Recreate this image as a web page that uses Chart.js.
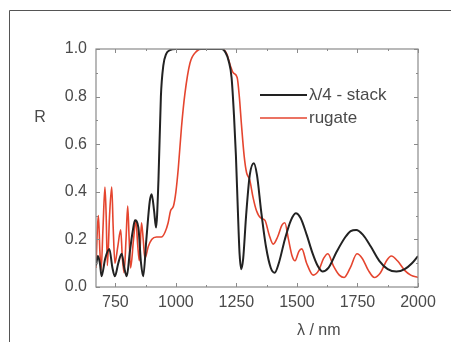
<!DOCTYPE html>
<html>
<head>
<meta charset="utf-8">
<script src="https://cdn.jsdelivr.net/npm/chart.js@4/dist/chart.umd.min.js"></script>
<style>
  html, body { margin: 0; padding: 0; background: #fff; }
  #wrap { width: 451px; height: 342px; position: relative; }
</style>
</head>
<body>
<div id="wrap"><canvas id="chart" width="451" height="342"></canvas></div>
<script>
// wavelength (nm) and reflectance for the quarter-wave stack
const stackWavelength = [670, 678, 686, 693, 708, 725, 738, 748, 762, 776, 787, 797, 810, 821, 831, 845, 856, 865,
  878, 892, 900, 910, 918, 928, 938, 948, 960, 975, 1000, 1100, 1190, 1205, 1218, 1230, 1240, 1248, 1256, 1263,
  1270, 1278, 1290, 1305, 1322, 1335, 1352, 1372, 1392, 1408, 1425, 1450, 1475, 1495, 1515, 1540, 1565, 1585,
  1605, 1630, 1665, 1700, 1722, 1745, 1772, 1805, 1840, 1875, 1911, 1945, 1975, 2000];
const stackR = [0.09, 0.13, 0.10, 0.045, 0.12, 0.16, 0.08, 0.045, 0.10, 0.14, 0.08, 0.045, 0.15, 0.23, 0.28, 0.25, 0.10, 0.045,
  0.20, 0.36, 0.39, 0.32, 0.25, 0.45, 0.80, 0.93, 0.98, 0.995, 1.0, 1.0, 1.0, 0.985, 0.95, 0.88, 0.72, 0.55, 0.32, 0.14,
  0.075, 0.12, 0.30, 0.47, 0.52, 0.47, 0.32, 0.17, 0.08, 0.06, 0.10, 0.20, 0.28, 0.31, 0.29, 0.22, 0.14, 0.09,
  0.065, 0.08, 0.15, 0.21, 0.235, 0.24, 0.22, 0.17, 0.11, 0.075, 0.065, 0.075, 0.10, 0.13];

// wavelength (nm) and reflectance for the rugate filter
const rugateWavelength = [670, 676, 680, 686, 691, 699, 707, 712, 717, 726, 735, 741, 748, 760, 772, 779, 786, 794,
  801, 807, 813, 825, 835, 842, 849, 858, 865, 872, 886, 900, 920, 940, 955, 968, 978, 990, 1000, 1010, 1023, 1037,
  1058, 1085, 1110, 1190, 1210, 1225, 1237, 1253, 1262, 1271, 1282, 1292, 1305, 1318, 1333, 1350, 1368, 1385, 1402,
  1420, 1438, 1450, 1465, 1480, 1492, 1508, 1520, 1540, 1567, 1590, 1610, 1628, 1650, 1675, 1695, 1720, 1748, 1770,
  1795, 1820, 1845, 1870, 1890, 1915, 1945, 1970, 2000];
const rugateR = [0.08, 0.25, 0.30, 0.15, 0.07, 0.25, 0.42, 0.30, 0.09, 0.30, 0.42, 0.25, 0.10, 0.17, 0.24, 0.12, 0.06, 0.20,
  0.34, 0.20, 0.08, 0.20, 0.28, 0.18, 0.11, 0.27, 0.20, 0.12, 0.17, 0.20, 0.21, 0.21, 0.23, 0.27, 0.32, 0.34, 0.40, 0.50, 0.67, 0.81,
  0.94, 0.99, 1.0, 1.0, 0.98, 0.93, 0.90, 0.88, 0.80, 0.68, 0.55, 0.48, 0.45, 0.38, 0.32, 0.29, 0.28, 0.22, 0.18,
  0.21, 0.26, 0.27, 0.20, 0.13, 0.11, 0.15, 0.16, 0.10, 0.05, 0.07, 0.12, 0.14, 0.09, 0.05, 0.04, 0.08, 0.14, 0.12,
  0.07, 0.04, 0.06, 0.11, 0.13, 0.11, 0.07, 0.05, 0.04];

const xTicks = [750, 1000, 1250, 1500, 1750, 2000];
const yTicks = [0, 0.2, 0.4, 0.6, 0.8, 1.0];
const seriesNames = ['λ/4 - stack', 'rugate'];
const seriesColors = ['#222222', '#e5452f'];

const toPoints = (xs, ys) => xs.map((x, i) => ({ x: x, y: ys[i] }));

const FONT = '"Liberation Sans", Arial, sans-serif';
const TEXT = '#4a4a4a';
const AXIS = '#8a8a8a';

// frame, plot box, inward ticks, legend and axis titles
const decorPlugin = {
  id: 'decor',
  afterDraw(chart) {
    const c = chart.ctx;
    const a = chart.chartArea;
    const xs = chart.scales.x;
    const ys = chart.scales.y;
    c.save();

    // outer frame (left + top only)
    c.strokeStyle = '#555';
    c.lineWidth = 1;
    c.beginPath();
    c.moveTo(9.5, 342);
    c.lineTo(9.5, 10.5);
    c.lineTo(451, 10.5);
    c.stroke();

    // plot box
    c.strokeStyle = AXIS;
    c.lineWidth = 1.2;
    c.strokeRect(a.left, a.top, a.right - a.left, a.bottom - a.top);

    // inward ticks
    c.lineWidth = 1;
    c.beginPath();
    for (let v = 625; v <= 2000; v += 125) {
      if (v < xs.min) continue;
      const px = Math.round(xs.getPixelForValue(v)) + 0.5;
      const len = v % 250 === 0 ? 4 : 2;
      c.moveTo(px, a.bottom); c.lineTo(px, a.bottom - len);
      c.moveTo(px, a.top); c.lineTo(px, a.top + len);
    }
    for (let v = 0; v <= 1.0001; v += 0.1) {
      const py = Math.round(ys.getPixelForValue(v)) + 0.5;
      const len = Math.round(v * 10) % 2 === 0 ? 4 : 2;
      c.moveTo(a.left, py); c.lineTo(a.left + len, py);
      c.moveTo(a.right, py); c.lineTo(a.right - len, py);
    }
    c.stroke();

    // legend
    c.font = '17px ' + FONT;
    c.textBaseline = 'middle';
    c.textAlign = 'left';
    chart.data.datasets.forEach((ds, i) => {
      const y = a.top + 46 + i * 23;
      const x0 = a.right - 158;
      c.strokeStyle = ds.borderColor;
      c.lineWidth = ds.borderWidth;
      c.beginPath();
      c.moveTo(x0, y);
      c.lineTo(x0 + 47, y);
      c.stroke();
      c.fillStyle = TEXT;
      c.fillText(ds.label, x0 + 49, y);
    });

    // axis titles
    c.font = '16px ' + FONT;
    c.textAlign = 'center';
    c.fillText('R', 40, ys.getPixelForValue(0.71));
    c.fillText('λ / nm', xs.getPixelForValue(1590), 331);
    c.restore();
  }
};

new Chart(document.getElementById('chart'), {
  type: 'line',
  data: {
    datasets: [{
      label: seriesNames[0],
      data: toPoints(stackWavelength, stackR),
      borderColor: seriesColors[0],
      borderWidth: 2,
      pointRadius: 0,
      cubicInterpolationMode: 'monotone',
      fill: false
    }, {
      label: seriesNames[1],
      data: toPoints(rugateWavelength, rugateR),
      borderColor: seriesColors[1],
      borderWidth: 1.6,
      pointRadius: 0,
      cubicInterpolationMode: 'monotone',
      fill: false
    }]
  },
  options: {
    responsive: false,
    animation: false,
    layout: { padding: { top: 49, right: 33, left: 0, bottom: 0 } },
    plugins: {
      legend: { display: false },
      tooltip: { enabled: false }
    },
    scales: {
      x: {
        type: 'linear',
        min: 670,
        max: 2000,
        afterBuildTicks: scale => { scale.ticks = xTicks.map(v => ({ value: v })); },
        afterFit: scale => { scale.height = 55; },
        grid: { display: false, drawTicks: false },
        border: { display: false },
        ticks: {
          padding: 6,
          maxRotation: 0,
          color: TEXT,
          font: { family: FONT, size: 16 },
          callback: v => String(v)
        }
      },
      y: {
        min: 0,
        max: 1,
        afterBuildTicks: scale => { scale.ticks = yTicks.map(v => ({ value: v })); },
        afterFit: scale => { scale.width = 96; },
        grid: { display: false, drawTicks: false },
        border: { display: false },
        ticks: {
          padding: 9,
          color: TEXT,
          font: { family: FONT, size: 16 },
          callback: v => Number(v).toFixed(1)
        }
      }
    }
  },
  plugins: [decorPlugin]
});
</script>
</body>
</html>
